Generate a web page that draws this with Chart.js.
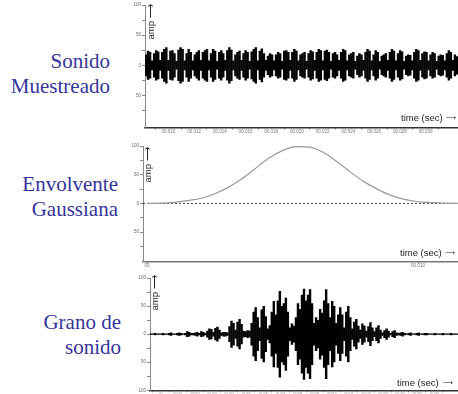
<!DOCTYPE html>
<html>
<head>
<meta charset="utf-8">
<script src="https://cdn.jsdelivr.net/npm/chart.js@4.4.1/dist/chart.umd.min.js"></script>
<style>
  html, body { margin: 0; padding: 0; background: #fff; }
  #page { position: relative; width: 458px; height: 394px; overflow: hidden; }
  canvas { position: absolute; }
  .name {
    position: absolute; text-align: right;
    font-family: "Liberation Serif", "DejaVu Serif", "Noto Serif", serif;
    font-size: 21px; line-height: 25px; color: #35359a;
  }
  .amp, .time, .arrow {
    position: absolute; font-family: "Liberation Sans", Arial, sans-serif;
    font-size: 9.5px; color: #222; white-space: nowrap;
  }
  .arrow { font-family: "DejaVu Sans", sans-serif; font-size: 7px; }
  .amp { transform: translate(-50%, -50%) rotate(-90deg); }
</style>
</head>
<body>
<div id="page">
  <div class="name" style="right:348px; top:49px;">Sonido<br>Muestreado</div>
  <div class="name" style="right:340px; top:172px;">Envolvente<br>Gaussiana</div>
  <div class="name" style="right:337px; top:310px;">Grano de<br>sonido</div>

  <canvas id="sound" width="328" height="136" style="left:130px; top:0px;"></canvas>
  <canvas id="envelope" width="328" height="133" style="left:130px; top:135px;"></canvas>
  <canvas id="grain" width="328" height="126" style="left:130px; top:268px;"></canvas>

  <div class="amp" style="left:150px; top:22px;">amp ⟶</div>
  <div class="amp" style="left:147px; top:165px;">amp ⟶</div>
  <div class="amp" style="left:154px; top:293px;">amp ⟶</div>
  <div class="time" style="left:401px; top:112px;">time (sec)</div>
  <div class="time" style="left:400px; top:247px;">time (sec)</div>
  <div class="time" style="left:397px; top:377px;">time (sec)</div>
  <div class="arrow" style="left:446px; top:114px;">⟶</div>
  <div class="arrow" style="left:445px; top:249px;">⟶</div>
  <div class="arrow" style="left:443px; top:379px;">⟶</div>
</div>

<script>
// envelope (half height) of the sampled sound, one value per ~2px column
const soundAmp = [
  18, 24, 22, 8, 20, 25, 23, 9, 22, 27, 30, 9, 24, 25, 20, 7, 26, 30, 27, 8,
  20, 27, 22, 8, 18, 22, 25, 9, 22, 25, 27, 8, 20, 27, 24, 7, 22, 25, 20, 9,
  25, 30, 26, 8, 18, 22, 24, 9, 20, 25, 22, 7, 23, 27, 30, 8, 24, 28, 20, 9,
  16, 20, 18, 8, 18, 22, 20, 7, 24, 25, 22, 9, 22, 27, 24, 8, 18, 20, 22, 7,
  20, 25, 23, 9, 22, 27, 25, 8, 24, 26, 22, 7, 20, 22, 18, 9, 22, 27, 25, 8,
  18, 20, 22, 7, 16, 20, 18, 9, 22, 27, 24, 8, 18, 25, 22, 7, 16, 18, 20, 9,
  22, 27, 24, 8, 20, 25, 23, 7, 16, 18, 17, 8, 22, 27, 25, 9, 20, 23, 22, 8,
  18, 22, 20, 7, 16, 18, 17, 8, 20, 25, 22, 9, 18, 15
];
const soundTicks = [0.010, 0.012, 0.014, 0.016, 0.018, 0.020, 0.022, 0.024, 0.026, 0.028, 0.030];

// gaussian envelope
const envTimeMs = [0, 0.5, 1, 1.5, 2, 2.5, 3, 3.5, 4, 4.5, 5, 5.5, 6, 6.5, 7, 7.5, 8, 8.5, 9, 9.5, 10, 10.5, 11, 11.5];
const envAmp = [0, 0.5, 2, 5, 9, 17, 28, 43, 61, 79, 92, 99, 98, 89, 73, 55, 38, 25, 14, 7, 3, 1.5, 0.5, 0.2];
const envTicks = [0, 0.010];

// grain (sound x envelope), one value per ~2px column
const grainAmp = [
  1, 1, 2, 1, 1, 1, 2, 1, 1, 2, 3, 1, 1, 2, 3, 2, 1, 2,
  5, 4, 2, 2, 3, 4, 2, 5, 4, 2, 6, 10, 9, 4, 11, 13, 8, 3, 4, 4, 3,
  14, 24, 20, 8, 22, 27, 18, 6, 5, 7, 6,
  20, 40, 48, 30, 12, 44, 50, 32, 10, 16, 40, 59, 35, 60, 77, 50,
  55, 65, 40, 12, 19, 15, 30, 55, 45, 70, 81, 60, 70, 80, 55, 20,
  30, 25, 45, 38, 60, 80, 55, 30, 59, 50, 20, 35, 48, 35, 12,
  40, 50, 30, 10, 22, 27, 15, 8, 19, 15, 6, 14, 21, 12, 5,
  12, 16, 8, 3, 7, 10, 6, 2, 5, 7, 3, 2, 3, 4, 2, 1,
  2, 3, 1, 1, 2, 3, 1, 1, 2, 2, 1, 1, 1, 2, 1, 1, 1, 2, 1, 1, 1, 2, 1, 1, 1
];
const grainTicks = [0, 0.001, 0.002, 0.003, 0.004, 0.005, 0.006, 0.007, 0.008, 0.009, 0.010, 0.011, 0.012, 0.013, 0.014, 0.015, 0.016];

const tickFont = { family: 'Liberation Sans', size: 4.5 };

function ampScale(width, min) {
    return {
        type: 'linear',
        min: min,
        max: 100,
        afterFit: s => { s.width = width; },
        afterBuildTicks: s => { s.ticks = s.ticks.filter(t => t.value % 25 === 0); },
        ticks: {
            stepSize: 25,
            autoSkip: false,
            font: tickFont,
            color: '#666',
            padding: 1,
            callback: v => (v % 50 === 0 ? String(Math.abs(v)) : '')
        },
        grid: { drawOnChartArea: false, tickLength: 3, color: '#888' },
        border: { color: '#888', width: 1 }
    };
}

function timeScale(min, max, ticks, height, font, lineColor) {
    return {
        type: 'linear',
        position: 'bottom',
        min: min,
        max: max,
        afterFit: s => { s.height = height; },
        afterBuildTicks: s => { s.ticks = ticks.map(v => ({ value: v })); },
        ticks: {
            autoSkip: false,
            maxRotation: 0,
            font: font,
            color: '#777',
            padding: 0,
            callback: v => (v === 0 ? '00' : '0' + v.toFixed(3))
        },
        grid: { drawOnChartArea: false, tickLength: 2, color: '#555' },
        border: { color: lineColor, width: 1.5 }
    };
}

function waveChart(id, amps, opts) {
    const ctx = document.getElementById(id).getContext('2d');
    new Chart(ctx, {
        type: 'bar',
        data: {
            labels: amps.map((_, i) => i),
            datasets: [{
                data: amps.map(a => [-a, a]),
                backgroundColor: '#000',
                borderWidth: 0,
                barPercentage: 1.2,
                categoryPercentage: 1,
                xAxisID: 'x',
                yAxisID: 'y'
            }]
        },
        options: {
            responsive: false,
            animation: false,
            layout: { padding: { top: opts.top, left: 0, right: 0, bottom: 0 } },
            plugins: { legend: { display: false }, tooltip: { enabled: false } },
            scales: {
                x: { type: 'category', display: false },
                xt: opts.time,
                y: ampScale(opts.yWidth, opts.yMin)
            }
        }
    });
}

waveChart('sound', soundAmp, {
    top: 5, yWidth: 15, yMin: -103,
    time: timeScale(0.009293, 0.031413, soundTicks, 8.5, tickFont, '#333')
});

waveChart('grain', grainAmp, {
    top: 10, yWidth: 20, yMin: -100,
    time: timeScale(-0.0001, 0.01685, grainTicks, 3.5, { family: 'Liberation Sans', size: 3 }, '#333')
});

new Chart(document.getElementById('envelope').getContext('2d'), {
    type: 'line',
    data: {
        datasets: [{
            data: envTimeMs.map((t, i) => ({ x: t / 1000, y: envAmp[i] })),
            borderColor: '#9a9a9a',
            borderWidth: 1.2,
            pointRadius: 0,
            cubicInterpolationMode: 'monotone',
            xAxisID: 'xt'
        }, {
            data: [{ x: -0.000148, y: 0 }, { x: 0.011476, y: 0 }],
            borderColor: '#444',
            borderWidth: 1,
            borderDash: [2, 2],
            pointRadius: 0,
            xAxisID: 'xt'
        }]
    },
    options: {
        responsive: false,
        animation: false,
        layout: { padding: { top: 11, left: 0, right: 0, bottom: 0 } },
        plugins: { legend: { display: false }, tooltip: { enabled: false } },
        scales: {
            xt: timeScale(-0.000148, 0.011476, envTicks, 6.5, tickFont, '#777'),
            y: ampScale(13, -101)
        }
    }
});
</script>
</body>
</html>
